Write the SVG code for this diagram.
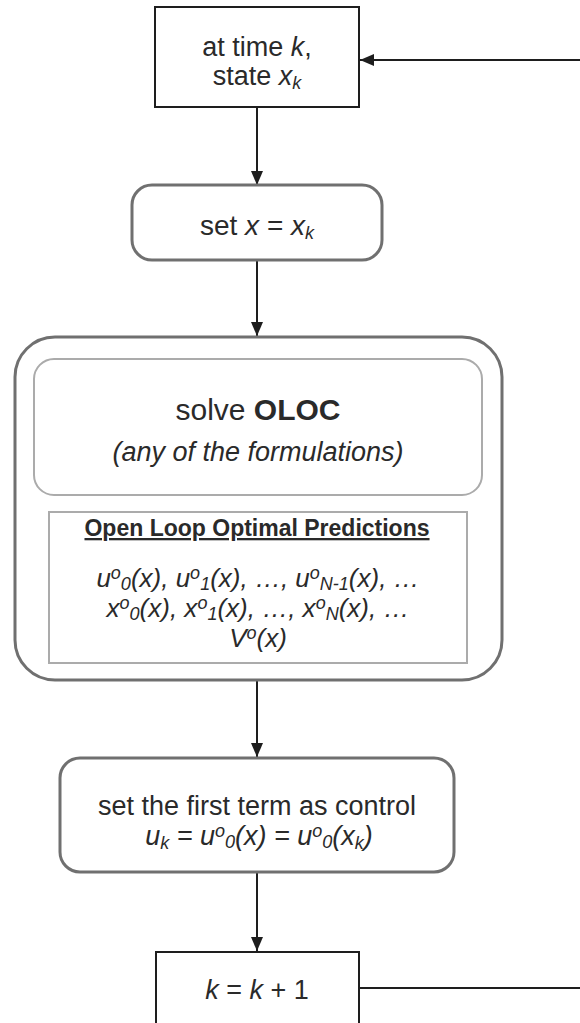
<svg xmlns="http://www.w3.org/2000/svg" width="580" height="1023" viewBox="0 0 580 1023">
<style>
.t{font-family:"Liberation Sans",Arial,sans-serif;fill:#2a2a2a;text-anchor:middle;font-size:27px}
.i{font-style:italic}
.b{font-weight:bold}
.s{font-size:18px}
.dark{fill:#fff;stroke:#1e1e1e;stroke-width:2}
.gray{fill:#fff;stroke:#707070;stroke-width:3}
.light{fill:#fff;stroke:#ababab;stroke-width:2}
.c{stroke:#1e1e1e;stroke-width:2;fill:none}
</style>
<defs>
<marker id="ah" markerWidth="14" markerHeight="12" refX="14" refY="6" orient="auto" markerUnits="userSpaceOnUse">
<path d="M0,0 L14,6 L0,12 z" fill="#1e1e1e"/>
</marker>
</defs>
<rect width="580" height="1023" fill="#fff"/>
<g id="connectors">
<line class="c" x1="257" y1="107" x2="257" y2="185" marker-end="url(#ah)"/>
<line class="c" x1="257" y1="261" x2="257" y2="336" marker-end="url(#ah)"/>
<line class="c" x1="257" y1="681" x2="257" y2="757" marker-end="url(#ah)"/>
<line class="c" x1="257" y1="873" x2="257" y2="951" marker-end="url(#ah)"/>
<polyline class="c" points="359,988 580,988"/>
<line class="c" x1="580" y1="60" x2="360" y2="60" marker-end="url(#ah)"/>
</g>
<g id="n_time">
<rect class="dark" x="155" y="7" width="204" height="100"/>
<text class="t" x="257" y="56">at time <tspan class="i">k</tspan>,</text>
<text class="t" x="257" y="85">state <tspan class="i">x</tspan><tspan class="i s" dy="4">k</tspan></text>
</g>
<g id="n_set">
<rect class="gray" x="132" y="185" width="250" height="75" rx="20"/>
<text class="t" x="257" y="235" style="font-size:28px">set <tspan class="i">x</tspan> = <tspan class="i">x</tspan><tspan class="i s" dy="4">k</tspan></text>
</g>
<g id="n_oloc">
<rect class="gray" x="15" y="337" width="487" height="343" rx="40"/>
<g id="n_solve">
<rect class="light" x="34" y="359" width="448" height="136" rx="20"/>
<text class="t" x="258" y="420" style="font-size:30px">solve <tspan class="b">OLOC</tspan></text>
<text class="t i" x="258" y="461">(any of the formulations)</text>
</g>
<g id="n_pred">
<rect class="light" x="49" y="512" width="418" height="151"/>
<text class="t b" x="257" y="536" style="font-size:23px;text-decoration:underline">Open Loop Optimal Predictions</text>
<text class="t i" x="258" y="587" style="font-size:26px">u<tspan class="s" dy="-8">o</tspan><tspan class="s" dy="11">0</tspan><tspan dy="-3">(x), u</tspan><tspan class="s" dy="-8">o</tspan><tspan class="s" dy="11">1</tspan><tspan dy="-3">(x), …, u</tspan><tspan class="s" dy="-8">o</tspan><tspan class="s" dy="11">N-1</tspan><tspan dy="-3">(x), …</tspan></text>
<text class="t i" x="258" y="617" style="font-size:26px">x<tspan class="s" dy="-8">o</tspan><tspan class="s" dy="11">0</tspan><tspan dy="-3">(x), x</tspan><tspan class="s" dy="-8">o</tspan><tspan class="s" dy="11">1</tspan><tspan dy="-3">(x), …, x</tspan><tspan class="s" dy="-8">o</tspan><tspan class="s" dy="11">N</tspan><tspan dy="-3">(x), …</tspan></text>
<text class="t i" x="258" y="647" style="font-size:26px">V<tspan class="s" dy="-8">o</tspan><tspan dy="8">(x)</tspan></text>
</g>
</g>
<g id="n_control">
<rect class="gray" x="60" y="758" width="394" height="114" rx="20"/>
<text class="t" x="257" y="815">set the first term as control</text>
<text class="t i" x="259" y="845">u<tspan class="s" dy="4">k</tspan><tspan dy="-4"> = u</tspan><tspan class="s" dy="-8">o</tspan><tspan class="s" dy="11">0</tspan><tspan dy="-3">(x) = u</tspan><tspan class="s" dy="-8">o</tspan><tspan class="s" dy="11">0</tspan><tspan dy="-3">(x</tspan><tspan class="s" dy="4">k</tspan><tspan dy="-4">)</tspan></text>
</g>
<g id="n_inc">
<rect class="dark" x="156" y="952" width="203" height="80"/>
<text class="t" x="257" y="999"><tspan class="i">k</tspan> = <tspan class="i">k</tspan> + 1</text>
</g>
</svg>
